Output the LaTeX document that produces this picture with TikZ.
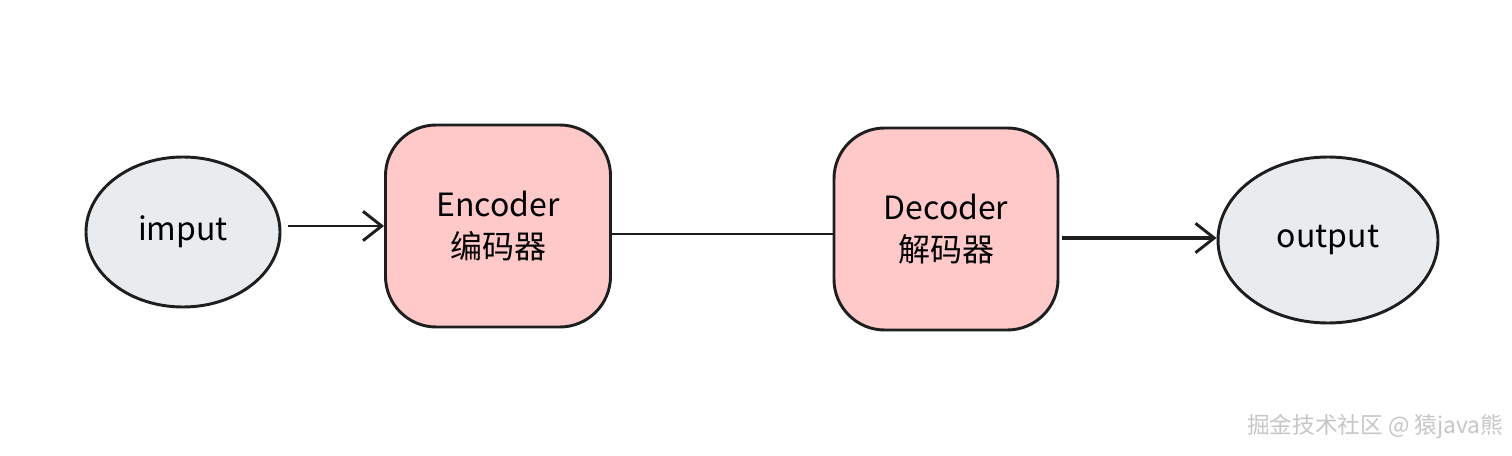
\documentclass[tikz,border=0pt]{standalone}
\usepackage{fontspec}
\setmainfont{Noto Sans CJK SC}
\usetikzlibrary{shapes.geometric,arrows.meta}
\definecolor{ell}{HTML}{E9ECEF}
\definecolor{box}{HTML}{FFC9C9}
\definecolor{ink}{HTML}{1E1E1E}
\tikzset{
 ellnode/.style={ellipse,draw=ink,line width=2.2pt,fill=ell,inner sep=0pt,font=\fontsize{24}{28}\selectfont},
 boxnode/.style={rectangle,rounded corners=38pt,draw=ink,line width=2.2pt,fill=box,inner sep=0pt,align=center,font=\fontsize{24}{32}\selectfont},
 conn/.style={draw=ink,line width=2.2pt},
 arr/.style={conn,-{Straight Barb[length=14pt,width=22pt,line width=2.2pt]}}
}
\begin{document}
\begin{tikzpicture}[x=0.75pt,y=-0.75pt]
\useasboundingbox (0,0) rectangle (1512,456);
\node[ellnode,minimum width=194*0.75pt,minimum height=150*0.75pt] (in) at (183,232) {imput};
\node[boxnode,minimum width=225*0.75pt,minimum height=202*0.75pt] (enc) at (498,226) {Encoder\\编码器};
\node[boxnode,minimum width=224*0.75pt,minimum height=202*0.75pt] (dec) at (946,229) {Decoder\\解码器};
\node[ellnode,minimum width=220*0.75pt,minimum height=166*0.75pt] (out) at (1328,240) {output};
\coordinate (a1) at (288,226);
\draw[arr] (a1) -- (enc.west |- a1);
\draw[conn] (enc.east |- 0,234) -- (dec.west |- 0,234);
\coordinate (a3) at (1062,238);
\draw[arr,line width=3pt] (a3) -- (out.west |- a3);
\node[text=gray!45,font=\fontsize{17}{20}\selectfont,anchor=east] (wm) at (1508,427) {掘金技术社区 @ 猿java熊};
\end{tikzpicture}
\end{document}
